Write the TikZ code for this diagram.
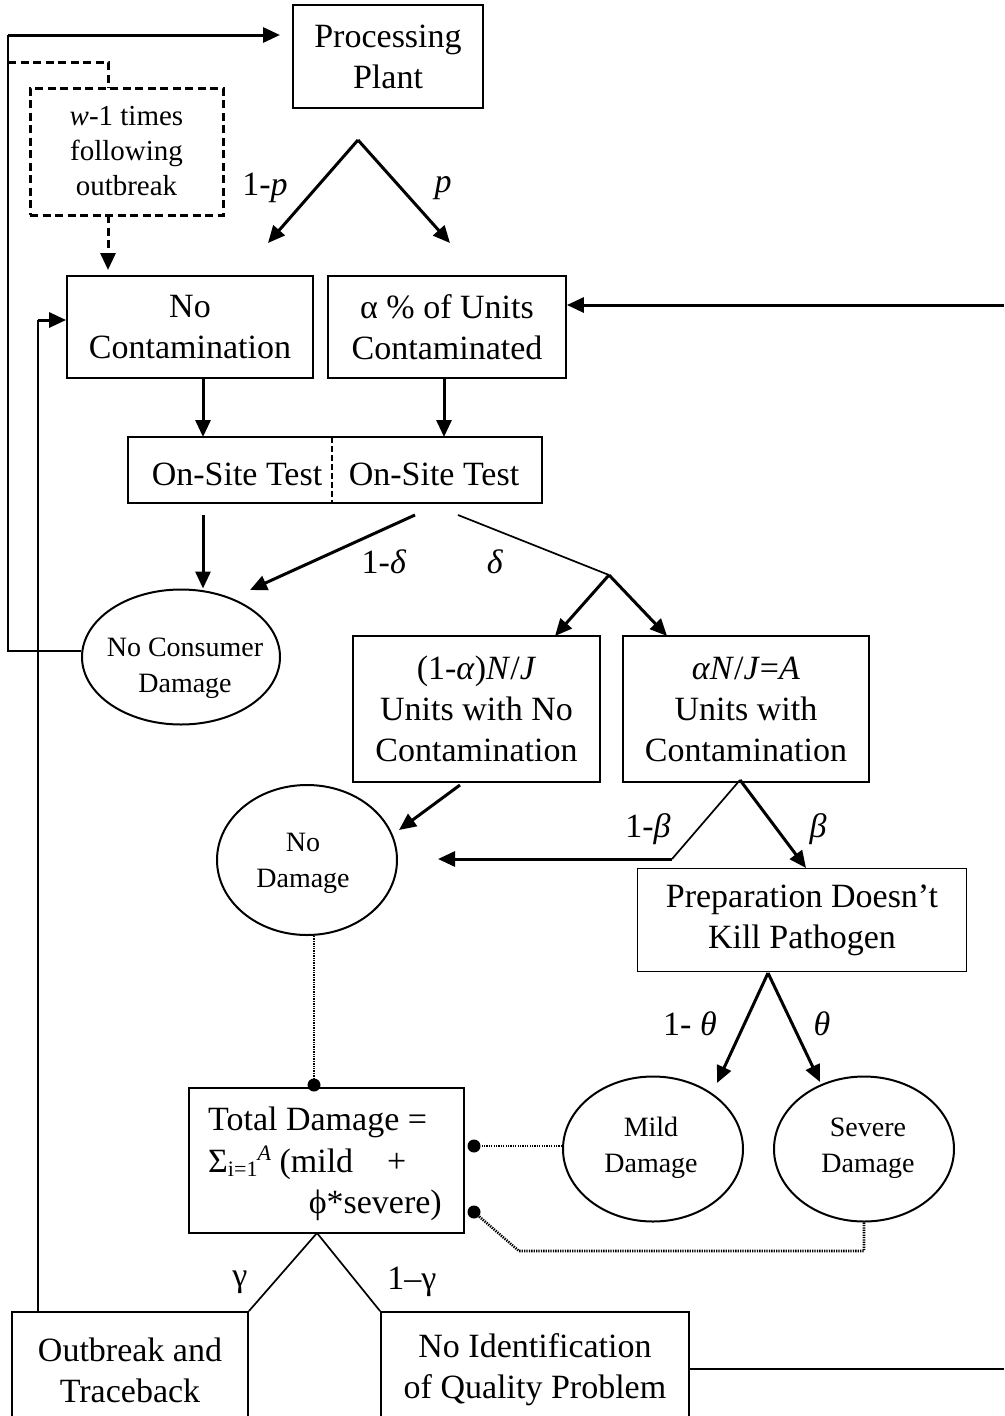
\documentclass[tikz,border=0pt]{standalone}
\usepackage{fontspec}
\setmainfont{Liberation Serif}
\usetikzlibrary{arrows.meta,shapes.geometric}
\begin{document}
\begin{tikzpicture}[x=1pt,y=-1pt,
  box/.style={draw, line width=1.8pt, rectangle, inner sep=0pt, align=center, font=\fontsize{34}{41}\selectfont},
  oval/.style={draw, line width=2pt, ellipse, inner sep=0pt},
  ovaltext/.style={inner sep=0pt, align=center, font=\fontsize{28}{36}\selectfont},
  lbl/.style={inner sep=0pt, font=\fontsize{34}{41}\selectfont},
  tip/.style={-{Triangle[length=17pt,width=15pt]}},
  arr/.style={line width=3pt, tip},
  thinline/.style={line width=1.7pt},
  dotline/.style={line width=2.6pt, dash pattern=on 1.3pt off 1.1pt},
  dashline/.style={line width=3pt, dash pattern=on 8pt off 4.5pt},
  dotend/.style={circle, fill, inner sep=0pt, minimum size=13pt}
]
\useasboundingbox (0,0) rectangle (1004,1416);
\clip (0,0) rectangle (1004,1416);

% ---------- nodes ----------
\node[box, minimum width=190pt, minimum height=103pt] (pp) at (388,56.5) {Processing\\Plant};
\node[box, dashline, minimum width=193pt, minimum height=127pt, font=\fontsize{29}{35}\selectfont] (wb) at (126.5,151.5) {\textit{w}-1 times\\following\\outbreak};
\node[box, minimum width=246pt, minimum height=102pt] (nc) at (190,327) {No\\Contamination};
\node[box, minimum width=238pt, minimum height=102pt] (uc) at (447,327) {α \% of Units\\Contaminated};
\node[box, minimum width=414pt, minimum height=66pt] (ost) at (335,470) {};
\node[lbl] (ost1) at (237,474) {On-Site Test};
\node[lbl] (ost2) at (434,474) {On-Site Test};
\coordinate (dv1) at (332,437);
\coordinate (dv2) at (332,503);

\node[oval, minimum width=198pt, minimum height=135pt] (ncd) at (181,657) {};
\node[ovaltext] (ncdt) at (185,668) {No Consumer\\Damage};

\node[box, minimum width=247pt, minimum height=146pt] (unc) at (476.5,709) {(1-\textit{α})\textit{N}/\textit{J}\\Units with No\\Contamination};
\node[box, minimum width=246pt, minimum height=146pt] (uwc) at (746,709) {\textit{αN}/\textit{J}=\textit{A}\\Units with\\Contamination};

\node[oval, minimum width=180pt, minimum height=150pt] (nd) at (307,860) {};
\node[ovaltext] (ndt) at (303,863) {No\\Damage};

\node[box, minimum width=329pt, minimum height=103pt] (prep) at (802,920) {Preparation Doesn’t\\Kill Pathogen};

\node[oval, minimum width=180pt, minimum height=145pt] (mild) at (653,1149) {};
\node[ovaltext] (mildt) at (651,1148) {Mild\\Damage};
\node[oval, minimum width=180pt, minimum height=145pt] (sev) at (864,1149) {};
\node[ovaltext] (sevt) at (868,1148) {Severe\\Damage};

\node[box, minimum width=275pt, minimum height=145pt] (td) at (326.5,1160.5) {};
\node[lbl, anchor=west] (td1) at (208,1122) {Total Damage =};
\node[lbl, anchor=west] (td2) at (208,1163) {Σ\raisebox{-4pt}{\fontsize{22}{24}\selectfont i=1}\raisebox{12pt}{\fontsize{22}{24}\selectfont\textit{A}} (mild\hspace{34pt}+};
\node[lbl, anchor=east] (td3) at (442,1205) {ϕ*severe)};

\node[box, minimum width=236pt, minimum height=116pt] (ob) at (130,1370) {Outbreak and\\Traceback};
\node[box, minimum width=308pt, minimum height=116pt] (ni) at (535,1370) {No Identification\\of Quality Problem};

% ---------- coordinates ----------
\coordinate (lc2) at (8,35);
\coordinate (pptip) at (280,35);
\coordinate (ds1) at (8,62);
\coordinate (ds2) at (108,62);
\coordinate (ds3) at (108,88);
\coordinate (ds4) at (108,215);
\coordinate (ds5) at (108,270);
\coordinate (ppa) at (358,140);
\coordinate (ppl) at (268,243);
\coordinate (ppr) at (450,243);
\coordinate (rin) at (1004,305);
\coordinate (lv1) at (38,320);
\coordinate (ost3) at (203,515);
\coordinate (ost4) at (415,515);
\coordinate (ost5) at (458,515);
\coordinate (da) at (609,575);
\coordinate (dl) at (555,636);
\coordinate (dr) at (667,636);
\coordinate (un1) at (460,785);
\coordinate (un2) at (399,830);
\coordinate (ba) at (740,780);
\coordinate (bl) at (672,859);
\coordinate (bt) at (438,859);
\coordinate (br) at (806,868);
\coordinate (ta) at (768,973);
\coordinate (tl) at (717,1083);
\coordinate (tr) at (820,1082);
\coordinate (sv1) at (864,1251);
\coordinate (sv2) at (519,1251);
\coordinate (ga) at (317,1233);
\coordinate (ni2) at (1004,1369);

\node[dotend] (d1) at (314,1085) {};
\node[dotend] (d2) at (474,1146) {};
\node[dotend] (d3) at (474,1212) {};

% ---------- connectors ----------
\draw[line width=2pt] (ncd.west |- 0,651) -- (8,651) -- (lc2);
\draw[arr] (lc2) -- (pptip);
\draw[dashline] (ds1) -- (ds2) -- (ds3);
\draw[dashline, tip] (ds4) -- (ds5);

\draw[arr] (ppa) -- (ppl);
\draw[arr] (ppa) -- (ppr);

\draw[arr] (rin) -- (uc.east |- rin);
\draw[thinline] (ob.north -| lv1) -- (lv1);
\draw[arr] (lv1) -- (nc.west |- lv1);

\draw[arr] (203,378) -- (203,437);
\draw[arr] (444,378) -- (444,437);
\draw[line width=1.8pt, dash pattern=on 6pt off 3pt] (dv1) -- (dv2);

\draw[arr] (ost3) -- (ost3 |- ncd.north);
\draw[arr] (ost4) -- (250,590);
\draw[thinline] (ost5) -- (da);
\draw[arr] (da) -- (dl);
\draw[arr] (da) -- (dr);

\draw[arr] (un1) -- (un2);
\draw[thinline] (ba) -- (bl);
\draw[arr] (bl) -- (bt);
\draw[arr] (ba) -- (br);

\draw[arr] (ta) -- (tl);
\draw[arr] (ta) -- (tr);

\draw[dotline] (d1 |- nd.south) -- (d1);
\draw[dotline] (mild.west |- d2) -- (d2);
\draw[dotline] (sev.south) -- (sv1) -- (sv2) -- (d3);

\draw[thinline] (ga) -- (ob.north east);
\draw[thinline] (ga) -- (ni.north west);
\draw[thinline] (ni.east |- ni2) -- (ni2);

% ---------- labels ----------
\node[lbl] (lp1) at (265,188) {1-\textit{p}};
\node[lbl] (lp2) at (443,188) {\textit{p}};
\node[lbl] (ld1) at (384,562) {1-\textit{δ}};
\node[lbl] (ld2) at (495,562) {\textit{δ}};
\node[lbl] (lb1) at (648,829) {1-\textit{β}};
\node[lbl] (lb2) at (818,829) {\textit{β}};
\node[lbl] (lt1) at (690,1024) {1- \textit{θ}};
\node[lbl] (lt2) at (822,1024) {\textit{θ}};
\node[lbl] (lg1) at (240,1282) {γ};
\node[lbl] (lg2) at (412,1282) {1–γ};
\end{tikzpicture}
\end{document}
